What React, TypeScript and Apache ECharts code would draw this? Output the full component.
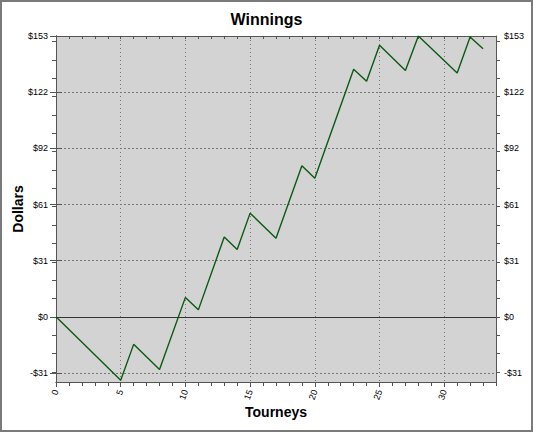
import React, { useEffect, useRef } from "react";
import * as echarts from "echarts";

const tourneys = [0, 5, 6, 8, 10, 11, 13, 14, 15, 17, 19, 20, 23, 24, 25, 27, 28, 31, 32, 33];
const dollars = [0, -34.6, -15, -28.7, 10.6, 3.8, 43.5, 36.7, 56.5, 42.8, 82.3, 75.5, 134.9, 128.3, 147.9, 134.2, 153, 132.9, 152.5, 146];

const yTickValues = [-30.6, 0, 30.6, 61.2, 91.8, 122.4, 153];
const yTickLabels = ["-$31", "$0", "$31", "$61", "$92", "$122", "$153"];
const yMinorValues = [-30, -20, -10, 0, 10, 20, 30, 40, 50, 60, 70, 80, 90, 100, 110, 120, 130, 140, 150];
const xTickValues = [0, 5, 10, 15, 20, 25, 30];
const xMinorValues = Array.from({ length: 35 }, (_, i) => i);

const Y_MIN = -35.5;
const Y_MAX = 153;
const X_MIN = 0;
const X_MAX = 34;

export default function App() {
  const ref = useRef<HTMLDivElement>(null);
  useEffect(() => {
    document.body.style.margin = "0";
    const chart = echarts.init(ref.current!, undefined, { renderer: "svg" });
    const axisColor = "#555555";
    const labelFont = { fontFamily: "Liberation Sans", fontSize: 9, color: "#000" };
    const yLabelFmt = (v: number) => {
      const i = yTickValues.findIndex((t) => Math.abs(t - v) < 1e-6);
      return i >= 0 ? yTickLabels[i] : "";
    };
    const baseY = {
      type: "value",
      min: Y_MIN,
      max: Y_MAX,
      axisLine: { show: true, lineStyle: { color: axisColor } },
      splitLine: { show: false },
      axisLabel: { show: false },
    };
    const baseX = {
      type: "value",
      min: X_MIN,
      max: X_MAX,
      axisLine: { show: true, onZero: false, lineStyle: { color: axisColor } },
      splitLine: { show: false },
      axisLabel: { show: false },
    };
    chart.setOption({
      animation: false,
      backgroundColor: "#ffffff",
      title: {
        text: "Winnings",
        left: "center",
        top: 6,
        textStyle: { fontFamily: "Liberation Sans", fontSize: 16, fontWeight: "bold", color: "#000" },
      },
      graphic: [
        {
          type: "rect",
          shape: { x: 1, y: 1, width: 531, height: 430 },
          style: { fill: "none", stroke: "#7a7a7a", lineWidth: 2 },
          silent: true,
        },
      ],
      grid: {
        left: 56,
        right: 37,
        top: 36,
        bottom: 50,
        show: true,
        backgroundColor: "#d3d3d3",
        borderWidth: 0,
        containLabel: false,
        outerBoundsMode: "none",
      },
      xAxis: [
        {
          ...baseX,
          position: "bottom",
          name: "Tourneys",
          nameLocation: "middle",
          nameGap: 23,
          nameMoveOverlap: false,
          nameTextStyle: { fontFamily: "Liberation Sans", fontSize: 14, fontWeight: "bold", color: "#000" },
          axisTick: { show: true, length: 5, customValues: xTickValues, lineStyle: { color: axisColor } },
          axisLabel: {
            show: true,
            customValues: xTickValues,
            rotate: 70,
            margin: 8,
            ...labelFont,
          },
          splitLine: { show: true, lineStyle: { color: "#777777", type: [1, 3], width: 1 } },
        },
        {
          ...baseX,
          position: "bottom",
          axisTick: { show: true, length: 4, customValues: xMinorValues, lineStyle: { color: axisColor } },
        },
        {
          ...baseX,
          position: "top",
          axisTick: { show: true, inside: true, length: 3, customValues: xMinorValues, lineStyle: { color: axisColor } },
        },
      ],
      yAxis: [
        {
          ...baseY,
          position: "left",
          name: "Dollars",
          nameLocation: "middle",
          nameGap: 31,
          nameMoveOverlap: false,
          nameRotate: 90,
          nameTextStyle: { fontFamily: "Liberation Sans", fontSize: 14, fontWeight: "bold", color: "#000" },
          axisTick: { show: true, length: 6, customValues: yTickValues, lineStyle: { color: axisColor } },
          axisLabel: { show: true, customValues: yTickValues, formatter: yLabelFmt, margin: 8, ...labelFont },
          splitLine: { show: true, lineStyle: { color: "#777777", type: [2, 2], width: 1 } },
        },
        {
          ...baseY,
          position: "left",
          axisTick: { show: true, length: 4, customValues: yMinorValues, lineStyle: { color: axisColor } },
        },
        {
          ...baseY,
          position: "right",
          axisTick: { show: true, length: 6, customValues: yTickValues, lineStyle: { color: axisColor } },
          axisLabel: { show: true, customValues: yTickValues, formatter: yLabelFmt, margin: 8, ...labelFont },
        },
        {
          ...baseY,
          position: "right",
          axisTick: { show: true, length: 4, customValues: yMinorValues, lineStyle: { color: axisColor } },
        },
      ],
      series: [
        {
          type: "line",
          xAxisIndex: 0,
          yAxisIndex: 0,
          data: tourneys.map((t, i) => [t, dollars[i]]),
          symbol: "none",
          lineStyle: { color: "#0b5a12", width: 1.4 },
          markLine: {
            silent: true,
            symbol: "none",
            label: { show: false },
            lineStyle: { color: "#333333", type: "solid", width: 1 },
            data: [{ yAxis: 0 }],
          },
          z: 3,
        },
      ],
    });
    return () => chart.dispose();
  }, []);
  return <div ref={ref} style={{ width: 533, height: 432 }} />;
}
